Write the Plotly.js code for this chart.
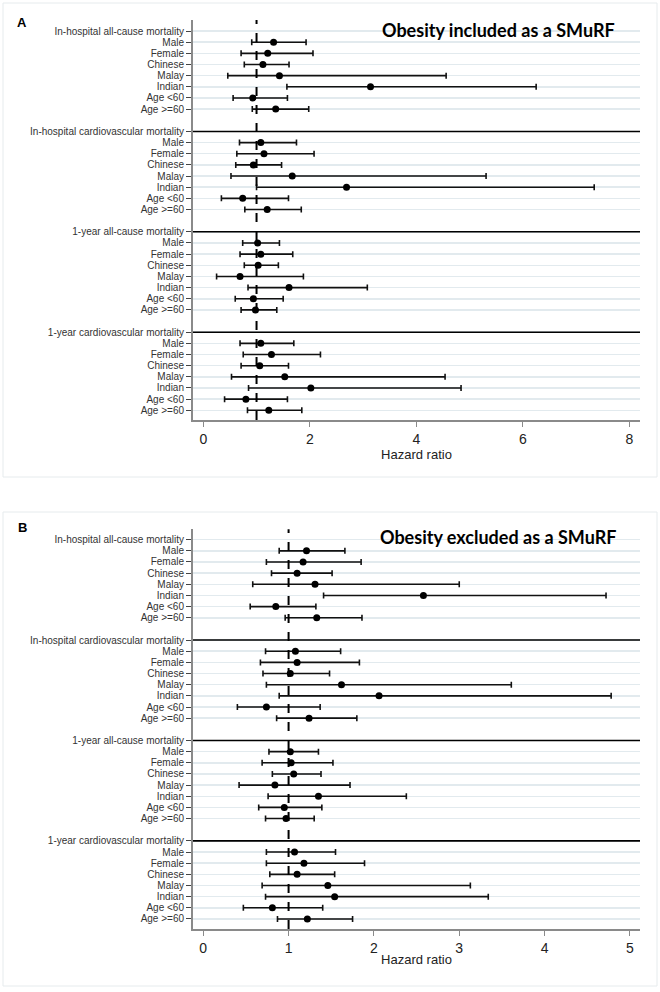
<!DOCTYPE html>
<html>
<head>
<meta charset="utf-8">
<script src="https://cdn.plot.ly/plotly-3.0.1.min.js"></script>
<style>html,body{margin:0;padding:0;background:#fff;}#chart{width:660px;height:992px;}</style>
</head>
<body>
<div id="chart"></div>
<script>
// ---------- DATA ----------
const outcomes = ['In-hospital all-cause mortality', 'In-hospital cardiovascular mortality', '1-year all-cause mortality', '1-year cardiovascular mortality'];
const subgroups = ['Male', 'Female', 'Chinese', 'Malay', 'Indian', 'Age <60', 'Age >=60'];

// Panel A: obesity included as a SMuRF (hazard ratio, lower CI, upper CI), one row per outcome
const hrA = [
  [1.32, 1.21, 1.12, 1.43, 3.14, 0.93, 1.36],
  [1.08, 1.14, 0.94, 1.67, 2.69, 0.74, 1.20],
  [1.02, 1.08, 1.03, 0.69, 1.61, 0.94, 0.98],
  [1.08, 1.28, 1.06, 1.53, 2.02, 0.80, 1.23]
];
const loA = [
  [0.91, 0.71, 0.77, 0.46, 1.57, 0.56, 0.92],
  [0.68, 0.63, 0.61, 0.52, 1.00, 0.34, 0.78],
  [0.74, 0.69, 0.77, 0.25, 0.84, 0.60, 0.71],
  [0.69, 0.75, 0.71, 0.53, 0.85, 0.40, 0.83]
];
const hiA = [
  [1.93, 2.06, 1.61, 4.56, 6.25, 1.58, 1.98],
  [1.75, 2.08, 1.47, 5.31, 7.34, 1.60, 1.84],
  [1.43, 1.68, 1.41, 1.88, 3.08, 1.50, 1.38],
  [1.70, 2.20, 1.60, 4.54, 4.84, 1.58, 1.85]
];

// Panel B: obesity excluded as a SMuRF
const hrB = [
  [1.21, 1.17, 1.10, 1.31, 2.58, 0.85, 1.33],
  [1.08, 1.10, 1.02, 1.62, 2.06, 0.74, 1.24],
  [1.02, 1.03, 1.06, 0.84, 1.35, 0.95, 0.97],
  [1.07, 1.18, 1.10, 1.46, 1.54, 0.81, 1.22]
];
const loB = [
  [0.89, 0.74, 0.80, 0.58, 1.41, 0.55, 0.96],
  [0.73, 0.67, 0.70, 0.74, 0.89, 0.40, 0.86],
  [0.77, 0.69, 0.81, 0.42, 0.76, 0.65, 0.73],
  [0.74, 0.74, 0.78, 0.69, 0.73, 0.47, 0.87]
];
const hiB = [
  [1.66, 1.85, 1.51, 3.00, 4.72, 1.32, 1.86],
  [1.61, 1.83, 1.48, 3.61, 4.78, 1.37, 1.80],
  [1.35, 1.52, 1.38, 1.72, 2.38, 1.39, 1.30],
  [1.55, 1.89, 1.54, 3.13, 3.34, 1.40, 1.75]
];

const panelTitles = ['Obesity included as a SMuRF', 'Obesity excluded as a SMuRF'];
const panelLetters = ['A', 'B'];
const xTicksA = [0, 2, 4, 6, 8];
const xTicksB = [0, 1, 2, 3, 4, 5];

// ---------- BUILD ----------
const ROWS_PER_GROUP = subgroups.length + 2; // header + subgroups + blank
const tickVals = [], tickText = [], headerRows = [];
outcomes.forEach((o, g) => {
  const base = g * ROWS_PER_GROUP;
  tickVals.push(base); tickText.push(o); headerRows.push(base);
  subgroups.forEach((s, i) => { tickVals.push(base + 1 + i); tickText.push(s); });
});

function panelTrace(hr, lo, hi, xa, ya) {
  const x = [], y = [], plus = [], minus = [];
  hr.forEach((row, g) => {
    row.forEach((v, i) => {
      x.push(v);
      y.push(g * ROWS_PER_GROUP + 1 + i);
      plus.push(hi[g][i] - v);
      minus.push(v - lo[g][i]);
    });
  });
  return {
    type: 'scatter', mode: 'markers', x: x, y: y, xaxis: xa, yaxis: ya,
    marker: {color: '#000', size: 7},
    error_x: {type: 'data', symmetric: false, array: plus, arrayminus: minus,
              color: '#111', thickness: 1.6, width: 3},
    hoverinfo: 'x+y', showlegend: false
  };
}

const data = [
  panelTrace(hrA, loA, hiA, 'x', 'y'),
  panelTrace(hrB, loB, hiB, 'x2', 'y2')
];

const font = {family: 'Liberation Sans, Arial, sans-serif', color: '#222'};
const xDom = [193 / 660, 640 / 660];
function yaxisDef(range, dom) {
  return {
    domain: dom, range: range, tickmode: 'array', tickvals: tickVals, ticktext: tickText,
    showgrid: true, gridcolor: '#e2eaee', gridwidth: 1.5, zeroline: false,
    showline: true, linecolor: '#8a8a8a', linewidth: 2,
    ticks: 'outside', ticklen: 5, tickcolor: '#444', tickwidth: 1,
    tickfont: {size: 10, color: '#333'}, automargin: false, fixedrange: true
  };
}
function xaxisDef(range, ticks, anchor) {
  return {
    domain: xDom, range: range, anchor: anchor, tickmode: 'array', tickvals: ticks,
    showgrid: false, zeroline: false, showline: true, linecolor: '#8a8a8a', linewidth: 2,
    ticks: 'outside', ticklen: 5, tickcolor: '#8a8a8a', tickwidth: 1,
    tickfont: {size: 14, color: '#222'},
    title: {text: 'Hazard ratio', font: {size: 13, color: '#222'}, standoff: 0},
    automargin: false, fixedrange: true
  };
}

const shapes = [];
// panel frames
[[3, 477], [512, 986]].forEach(([t, b]) => {
  shapes.push({type: 'rect', xref: 'paper', yref: 'paper', x0: 3 / 660, x1: 657 / 660,
    y0: 1 - b / 992, y1: 1 - t / 992, line: {color: '#e6ebed', width: 1}, layer: 'below'});
});
// header separators (groups 2..4) and reference line at HR = 1
[['x', 'y'], ['x2', 'y2']].forEach(([xa, ya]) => {
  headerRows.slice(1).forEach(r => {
    shapes.push({type: 'line', xref: xa + ' domain', yref: ya, x0: 0, x1: 1, y0: r, y1: r,
      line: {color: '#000', width: 1.6}, layer: 'above'});
  });
  shapes.push({type: 'line', xref: xa, yref: ya + ' domain', x0: 1, x1: 1, y0: 0, y1: 1,
    line: {color: '#000', width: 2, dash: 'dash'}, layer: 'above'});
});

const annotations = [];
[[22.5, 30], [527.5, 537]].forEach(([ly, ty], p) => {
  annotations.push({xref: 'paper', yref: 'paper', x: 22 / 660, y: 1 - ly / 992, text: '<b>' + panelLetters[p] + '</b>',
    showarrow: false, xanchor: 'center', yanchor: 'middle', font: {family: 'Liberation Sans, Arial', size: 13, color: '#000'}});
  annotations.push({xref: 'paper', yref: 'paper', x: 498 / 660, y: 1 - ty / 992, text: '<b>' + panelTitles[p] + '</b>',
    showarrow: false, xanchor: 'center', yanchor: 'middle', font: {family: 'Lato, Carlito, sans-serif', size: 18, color: '#000'}});
});

const layout = {
  width: 660, height: 992, margin: {l: 0, r: 0, t: 0, b: 0},
  paper_bgcolor: '#fff', plot_bgcolor: '#fff', font: font, showlegend: false,
  xaxis: xaxisDef([-0.193, 8.2], xTicksA, 'y'),
  yaxis: yaxisDef([34.87, -0.99], [1 - 420 / 992, 1 - 20 / 992]),
  xaxis2: xaxisDef([-0.12, 5.118], xTicksB, 'y2'),
  yaxis2: Object.assign(yaxisDef([34.9, -0.93], [1 - 929 / 992, 1 - 529.3 / 992]), {anchor: 'x2'}),
  shapes: shapes, annotations: annotations
};
layout.yaxis.anchor = 'x';

Plotly.newPlot('chart', data, layout, {displayModeBar: false, staticPlot: true});
</script>
</body>
</html>
